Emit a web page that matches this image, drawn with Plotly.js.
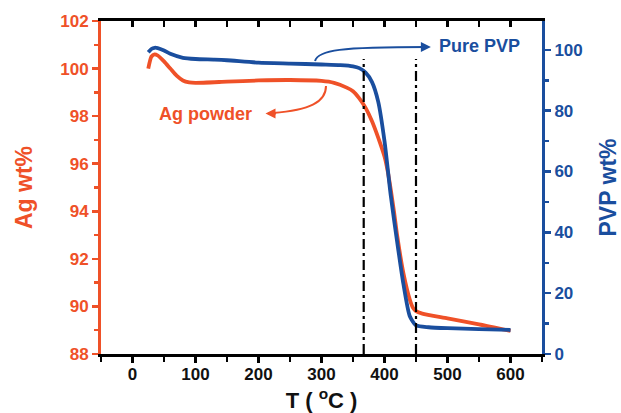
<!DOCTYPE html>
<html>
<head>
<meta charset="utf-8">
<script src="https://cdn.plot.ly/plotly-3.0.1.min.js"></script>
<style>html,body{margin:0;padding:0;background:#fff;}#chart{width:621px;height:413px;}</style>
</head>
<body>
<div id="chart"></div>
<script>
// Ag powder (left axis, wt%)
const agT = [25, 30, 35, 40, 50, 60, 70, 80, 90, 100, 150, 200, 250, 300, 320, 340, 350, 360, 370, 380, 390, 400, 405, 410, 415, 420, 430, 440, 445, 450, 460, 500, 550, 600];
const agWt = [100.0, 100.5, 100.6, 100.55, 100.3, 100.0, 99.7, 99.5, 99.42, 99.4, 99.45, 99.5, 99.52, 99.48, 99.4, 99.2, 99.05, 98.75, 98.35, 97.8, 97.1, 96.3, 95.7, 94.9, 94.0, 93.0, 91.4, 90.3, 89.95, 89.8, 89.7, 89.5, 89.25, 88.97];
// Pure PVP (right axis, wt%)
const pvpT = [25, 30, 35, 40, 50, 60, 80, 100, 130, 150, 200, 250, 300, 330, 350, 360, 370, 380, 390, 400, 410, 420, 430, 440, 450, 470, 500, 550, 600];
const pvpWt = [99.2, 100.3, 100.7, 100.6, 99.8, 98.7, 97.4, 97.0, 96.8, 96.6, 95.8, 95.5, 95.2, 95.0, 94.6, 94.0, 92.5, 89.5, 83, 70, 52, 37, 23, 12.5, 9.4, 8.8, 8.5, 8.2, 7.9];
// dash-dot marker lines (temperature)
const markerT = [367, 450];
const markerTop = 100.4;
const markerBottom = 88;
const xTickVals = [0, 100, 200, 300, 400, 500, 600];
const labels = {x: 'T ( <sup>o</sup>C )', yLeft: 'Ag wt%', yRight: 'PVP wt%', ag: 'Ag powder', pvp: 'Pure PVP'};

const ORANGE = '#EF5128';
const BLUE = '#1A4E9E';
const FONT = 'Arial, "Liberation Sans", Helvetica, sans-serif';

const traces = [
  {x: agT, y: agWt, type: 'scatter', mode: 'lines', line: {color: ORANGE, width: 3.8, shape: 'spline', smoothing: 0.6}, xaxis: 'x', yaxis: 'y', hoverinfo: 'skip'},
  {x: pvpT, y: pvpWt, type: 'scatter', mode: 'lines', line: {color: BLUE, width: 3.8, shape: 'spline', smoothing: 0.6}, xaxis: 'x', yaxis: 'y2', hoverinfo: 'skip'},
  {x: [-50, 650], y: [null, null], type: 'scatter', mode: 'lines', xaxis: 'x2', yaxis: 'y', showlegend: false, hoverinfo: 'skip'}
];

const shapes = markerT.map(t => ({
  type: 'line', xref: 'x', yref: 'y', x0: t, x1: t, y0: markerBottom, y1: markerTop,
  line: {color: '#000', width: 2.2, dash: '10px,4px,3px,4px'}
}));
// curved leader lines (paper coords)
shapes.push({type: 'path', xref: 'paper', yref: 'paper',
  path: 'M 0.4853 0.8799 C 0.4921 0.9129, 0.5420 0.9219, 0.7400 0.9219',
  line: {color: BLUE, width: 2}});
shapes.push({type: 'path', xref: 'paper', yref: 'paper',
  path: 'M 0.5102 0.8048 C 0.5102 0.7568, 0.4739 0.7327, 0.3900 0.7237',
  line: {color: ORANGE, width: 2}});

const annotations = [
  {xref: 'paper', yref: 'paper', x: 0.7480, y: 0.9219, ax: -12, ay: 0, showarrow: true, arrowhead: 2, arrowsize: 1, arrowwidth: 2, arrowcolor: BLUE, text: ''},
  {xref: 'paper', yref: 'paper', x: 0.3730, y: 0.7220, ax: 12, ay: 0, showarrow: true, arrowhead: 2, arrowsize: 1, arrowwidth: 2, arrowcolor: ORANGE, text: ''},
  {xref: 'paper', yref: 'paper', x: 0.859, y: 0.925, xanchor: 'center', yanchor: 'middle', showarrow: false, text: labels.pvp, font: {family: FONT, size: 18, color: BLUE, weight: 'bold'}},
  {xref: 'paper', yref: 'paper', x: 0.238, y: 0.721, xanchor: 'center', yanchor: 'middle', showarrow: false, text: labels.ag, font: {family: FONT, size: 18, color: ORANGE, weight: 'bold'}}
];

const layout = {
  width: 621, height: 413,
  margin: {l: 101, r: 79, t: 21, b: 59, pad: 0},
  paper_bgcolor: '#fff', plot_bgcolor: '#fff',
  showlegend: false,
  font: {family: FONT},
  xaxis: {
    range: [-50, 650], tickvals: xTickVals, ticks: 'outside', ticklen: 6, tickwidth: 2.5, tickcolor: '#000',
    ticklabelstandoff: -3,
    minor: {dtick: 50, tick0: 0, ticks: 'outside', ticklen: 5, tickwidth: 2.5, tickcolor: '#000'},
    showline: true, linecolor: '#000', linewidth: 3, showgrid: false, zeroline: false,
    tickfont: {family: FONT, size: 17, color: '#111', weight: 'bold'},
    title: {text: labels.x, font: {family: FONT, size: 22, color: '#111', weight: 'bold'}, standoff: 14}
  },
  xaxis2: {
    overlaying: 'x', side: 'top', range: [-50, 650], dtick: 50, tick0: 0, ticks: 'inside', ticklen: 6, tickwidth: 2.5, tickcolor: '#000',
    showticklabels: false, showline: true, linecolor: '#000', linewidth: 3, showgrid: false, zeroline: false
  },
  yaxis: {
    range: [88, 102], dtick: 2, tick0: 88, ticks: 'outside', ticklen: 6, tickwidth: 2.5, tickcolor: ORANGE,
    minor: {dtick: 1, tick0: 88, ticks: 'outside', ticklen: 4, tickwidth: 2.5, tickcolor: ORANGE},
    showline: true, linecolor: ORANGE, linewidth: 3, showgrid: false, zeroline: false,
    tickfont: {family: FONT, size: 17, color: ORANGE, weight: 'bold'},
    title: {text: labels.yLeft, font: {family: FONT, size: 23, color: ORANGE, weight: 'bold'}, standoff: 22}
  },
  yaxis2: {
    overlaying: 'y', side: 'right', range: [0, 109.5], dtick: 20, tick0: 0, ticks: 'outside', ticklen: 6, tickwidth: 2.5, tickcolor: BLUE,
    minor: {dtick: 10, tick0: 0, ticks: 'outside', ticklen: 4, tickwidth: 2.5, tickcolor: BLUE},
    showline: true, linecolor: BLUE, linewidth: 3, showgrid: false, zeroline: false,
    tickfont: {family: FONT, size: 17, color: BLUE, weight: 'bold'},
    title: {text: labels.yRight, font: {family: FONT, size: 23, color: BLUE, weight: 'bold'}, standoff: 20}
  },
  shapes: shapes,
  annotations: annotations
};

Plotly.newPlot('chart', traces, layout, {staticPlot: true, displayModeBar: false});
</script>
</body>
</html>
